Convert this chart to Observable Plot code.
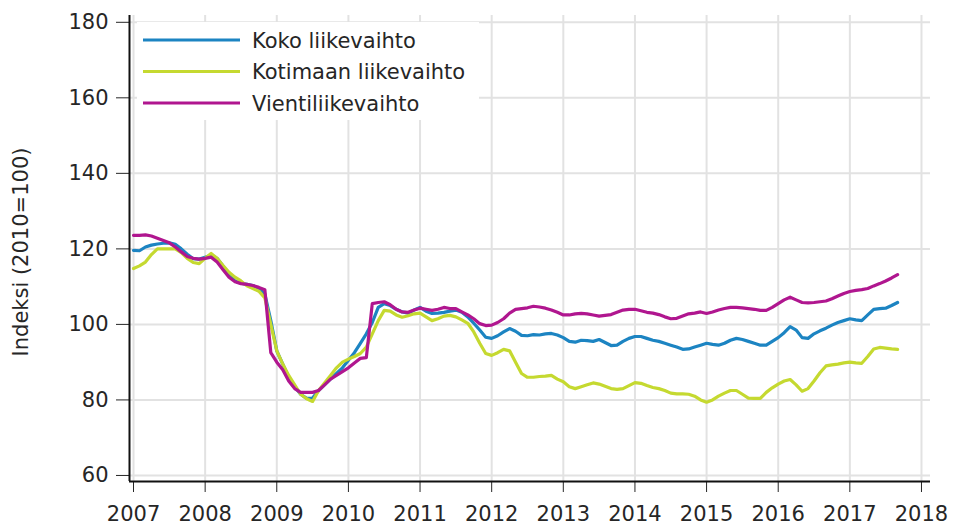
<!DOCTYPE html>
<html>
<head>
<meta charset="utf-8">
<script src="https://cdn.jsdelivr.net/npm/d3@7"></script>
<script src="https://cdn.jsdelivr.net/npm/@observablehq/plot@0.6"></script>
<style>
  html, body { margin: 0; padding: 0; background: #fff; }
  #wrap { position: relative; width: 953px; height: 528px; font-family: "DejaVu Sans", sans-serif; }
  #legend { position: absolute; left: 137px; top: 22px; }
</style>
</head>
<body>
<div id="wrap"><div id="chart"></div><svg id="legend" width="342" height="98"></svg></div>
<script>
// Monthly index values, Jan 2007 – Sep 2017 (2010 = 100)
const startYear = 2007;
const seriesNames = ["Koko liikevaihto", "Kotimaan liikevaihto", "Vientiliikevaihto"];
const seriesColors = ["#1c84c2", "#c5d930", "#b0168f"];
const yTitle = "Indeksi (2010=100)";

const koko = [
  119.6, 119.5, 120.5, 121.0, 121.3, 121.5, 121.6, 121.2, 120.0, 118.6, 117.4, 117.3,
  117.8, 118.3, 117.5, 115.5, 113.3, 111.5, 110.9, 110.6, 110.3, 109.5, 108.0, 101.0,
  93.0, 89.5, 86.0, 83.5, 81.5, 80.4, 80.5, 82.5, 84.0, 85.5, 87.0, 88.5,
  90.5, 92.5, 95.0, 97.5, 100.5, 104.5, 105.5, 105.0, 104.0, 103.3, 103.0, 103.8,
  104.5, 103.5, 102.9, 103.0, 103.2, 103.5, 103.8, 103.2, 102.0, 100.3, 98.5, 96.6,
  96.3, 97.0, 98.0, 98.9, 98.2, 97.1, 97.0, 97.3, 97.2, 97.5, 97.6, 97.2,
  96.5, 95.5, 95.3, 95.8, 95.7, 95.5, 96.0, 95.2, 94.4, 94.5, 95.5, 96.3,
  96.8, 96.8, 96.3, 95.8, 95.5, 95.0, 94.5, 94.0, 93.4, 93.5, 94.0, 94.5,
  95.0, 94.7, 94.5, 95.0, 95.8, 96.3, 96.0, 95.5, 95.0, 94.5, 94.5, 95.5,
  96.5, 97.8, 99.4, 98.5, 96.5, 96.3, 97.5, 98.3, 99.0, 99.8, 100.5, 101.0,
  101.5, 101.2, 101.0, 102.5, 104.0, 104.2, 104.3, 105.0, 105.8
];
const kotimaa = [
  114.8, 115.5, 116.5, 118.5, 120.0, 120.0, 120.0, 120.0, 119.0, 117.5, 116.4, 116.1,
  117.5, 118.8, 117.5, 115.6, 113.8, 112.5, 111.5, 110.2, 109.5, 108.8, 107.0, 100.0,
  93.0, 89.5, 86.5, 84.0, 81.5, 80.3, 79.6, 82.5, 84.5, 86.5, 88.5, 90.0,
  90.8, 91.5, 92.3, 94.0, 97.5, 101.0, 103.7, 103.5, 102.5, 101.9, 102.3, 102.8,
  103.0, 102.0, 101.0, 101.5, 102.2, 102.4, 102.0, 101.2, 100.3, 98.0, 95.0, 92.3,
  91.8, 92.5, 93.4, 93.0, 90.0, 87.0, 86.0, 86.0, 86.2, 86.3, 86.5, 85.5,
  84.8, 83.5, 83.0, 83.5, 84.0, 84.5, 84.2, 83.6, 83.0, 82.8, 83.0, 83.8,
  84.6, 84.4, 83.8, 83.3, 83.0, 82.5, 81.8, 81.6, 81.6, 81.5, 81.0, 80.0,
  79.4, 80.0, 81.0, 81.8, 82.5, 82.5, 81.5, 80.5, 80.4, 80.4, 82.0, 83.2,
  84.2, 85.0, 85.4, 84.0, 82.3, 83.0, 85.0, 87.2, 89.0, 89.3, 89.5, 89.8,
  90.0, 89.8, 89.7, 91.5, 93.5, 93.9, 93.7, 93.5, 93.4
];
const vienti = [
  123.6, 123.6, 123.7, 123.4, 122.8, 122.2, 121.6, 120.5, 119.2, 118.0, 117.5, 117.3,
  117.5, 117.8, 116.5, 114.5, 112.5, 111.3, 110.8, 110.6, 110.3, 109.8, 109.2, 92.5,
  90.0, 88.0, 85.0, 83.0, 82.0, 82.0, 82.0, 82.5, 84.0, 85.5, 86.5, 87.5,
  88.5, 89.8, 91.0, 91.2, 105.5, 105.8, 106.0, 105.2, 104.0, 103.3, 103.2, 103.8,
  104.3, 104.0, 103.7, 104.0, 104.5, 104.2, 104.2, 103.3, 102.5, 101.5, 100.2, 99.7,
  99.8, 100.5, 101.5, 103.0, 104.0, 104.2, 104.4, 104.8, 104.6, 104.3, 103.8, 103.2,
  102.5, 102.5, 102.8, 102.9, 102.8, 102.5, 102.2, 102.4, 102.6, 103.2, 103.8, 104.0,
  104.0, 103.6, 103.2, 103.0, 102.6, 102.0, 101.5, 101.6, 102.2, 102.8, 103.0, 103.3,
  102.9, 103.3, 103.8, 104.2, 104.5, 104.5, 104.4, 104.2, 104.0, 103.7, 103.7, 104.5,
  105.5, 106.5, 107.2, 106.5, 105.8, 105.7, 105.8, 106.0, 106.2, 106.8, 107.5, 108.2,
  108.7, 109.0, 109.2, 109.5, 110.2, 110.8, 111.5, 112.3, 113.2
];

const yearTicks = [2007, 2008, 2009, 2010, 2011, 2012, 2013, 2014, 2015, 2016, 2017, 2018];
const yTicks = [60, 80, 100, 120, 140, 160, 180];
const xDomain = [2006.944, 2018.126];
const yDomain = [58.4, 181.8];

const allSeries = [koko, kotimaa, vienti];
const rows = [];
allSeries.forEach((vals, s) => {
  vals.forEach((v, i) => rows.push({ t: startYear + i / 12, value: v, series: seriesNames[s] }));
});

const chart = Plot.plot({
  width: 953,
  height: 528,
  marginLeft: 129,
  marginRight: 23,
  marginTop: 15,
  marginBottom: 47,
  style: { fontFamily: "DejaVu Sans, sans-serif", fontSize: "21px", color: "#262626", background: "#fff" },
  x: { domain: xDomain, ticks: yearTicks, tickFormat: d => String(d), tickSize: 11, tickPadding: 14, label: null },
  y: { domain: yDomain, ticks: yTicks, tickSize: 13, tickPadding: 8, label: null },
  color: { domain: seriesNames, range: seriesColors },
  marks: [
    Plot.ruleX(yearTicks, { stroke: "#e2e2e2", strokeWidth: 2 }),
    Plot.ruleY(yTicks, { stroke: "#e2e2e2", strokeWidth: 2 }),
    Plot.line(rows, { x: "t", y: "value", z: "series", stroke: "series", strokeWidth: 3.2, strokeLinejoin: "round" }),
    Plot.ruleX([xDomain[0]], { stroke: "#111", strokeWidth: 2 }),
    Plot.ruleY([yDomain[0]], { stroke: "#111", strokeWidth: 2 })
  ]
});
document.getElementById("chart").appendChild(chart);

// y-axis title (rotated)
d3.select(chart).append("text")
  .attr("transform", "translate(20,252) rotate(-90)")
  .attr("text-anchor", "middle").attr("dy", "0.36em")
  .attr("font-family", "DejaVu Sans, sans-serif").attr("font-size", 21)
  .attr("fill", "#262626").text(yTitle);

// legend inside plot area
const leg = d3.select("#legend");
leg.append("rect").attr("width", 342).attr("height", 98).attr("fill", "#fff");
seriesNames.forEach((name, i) => {
  const cy = 18 + i * 31.5;
  leg.append("line").attr("x1", 6).attr("x2", 103).attr("y1", cy).attr("y2", cy)
    .attr("stroke", seriesColors[i]).attr("stroke-width", 3.2);
  leg.append("text").attr("x", 115).attr("y", cy).attr("dy", "0.36em")
    .attr("font-family", "DejaVu Sans, sans-serif")
    .attr("font-size", 21).attr("fill", "#262626").text(name);
});
</script>
</body>
</html>
